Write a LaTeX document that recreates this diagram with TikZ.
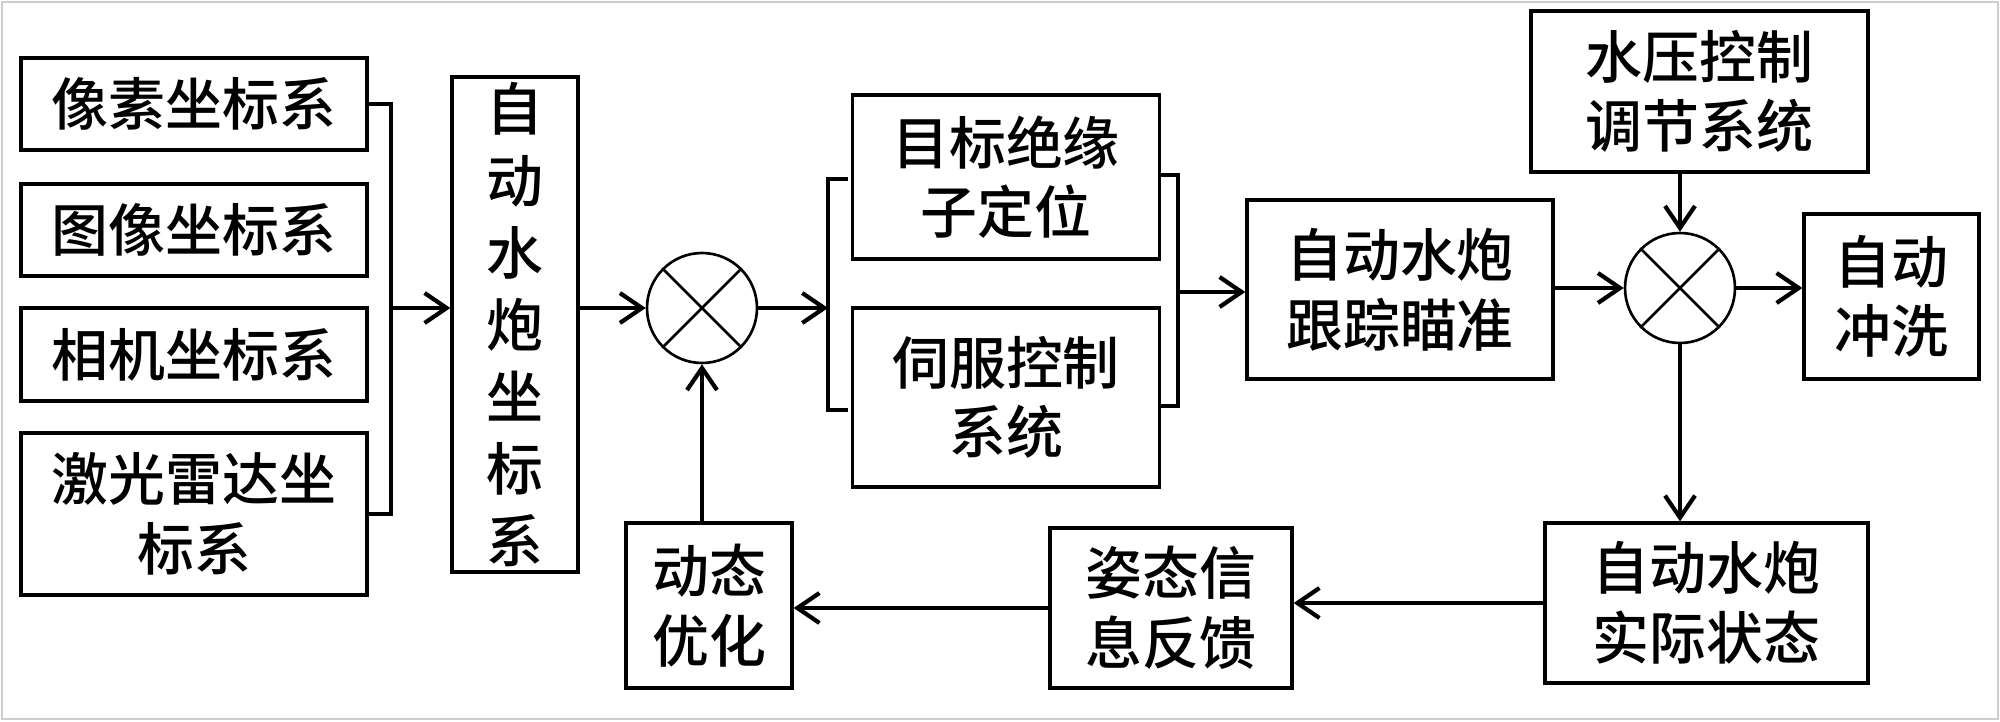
\documentclass[tikz,border=0pt]{standalone}
\usepackage{fontspec}
\setmainfont{Noto Sans CJK SC Medium}
\usetikzlibrary{arrows.meta}
\definecolor{framegray}{RGB}{205, 205, 205}

\begin{document}
\begin{tikzpicture}[
    font=\fontsize{16.2}{19.8}\selectfont,
    box/.style={draw=black, line width=0.95pt, align=center, inner sep=0pt},
    mix/.style={draw=black, circle, line width=0.75pt, minimum size=1.1cm, inner sep=0pt},
    link/.style={line width=1.2pt},
    arr/.style={link, -{Straight Barb[length=2.2mm, width=3mm]}},
  ]
    \useasboundingbox (0, 0) rectangle (20, 7.21);
    \draw[framegray, line width=0.6pt] (0.02, 0.02) rectangle (19.98, 7.19);

    % --- input coordinate frames
    \node[box, minimum width=3.46cm, minimum height=0.92cm] (pix) at (1.94, 6.17) {像素坐标系};
    \node[box, minimum width=3.46cm, minimum height=0.92cm] (img) at (1.94, 4.91) {图像坐标系};
    \node[box, minimum width=3.46cm, minimum height=0.93cm] (cam) at (1.94, 3.665) {相机坐标系};
    \node[box, minimum width=3.46cm, minimum height=1.62cm] (lidar) at (1.94, 2.07) {激光雷达坐\\标系};

    \node[box, minimum width=1.26cm, minimum height=4.95cm,
      font=\fontsize{16.2}{20.5}\selectfont] (wcs) at (5.15, 3.965) {自\\动\\水\\炮\\坐\\标\\系};

    % --- first mixing point and the two parallel blocks
    \node[mix] (mix1) at (7.02, 4.13) {};
    \draw[line width=0.75pt] (mix1.north west) -- (mix1.south east)
      (mix1.north east) -- (mix1.south west);

    \node[box, minimum width=3.07cm, minimum height=1.64cm] (loc) at (10.06, 5.44) {目标绝缘\\子定位};
    \node[box, minimum width=3.07cm, minimum height=1.79cm] (servo) at (10.06, 3.235) {伺服控制\\系统};

    \node[box, minimum width=3.06cm, minimum height=1.79cm] (track) at (14.00, 4.315) {自动水炮\\跟踪瞄准};

    % --- second mixing point
    \node[mix] (mix2) at (16.80, 4.33) {};
    \draw[line width=0.75pt] (mix2.north west) -- (mix2.south east)
      (mix2.north east) -- (mix2.south west);

    \node[box, minimum width=3.37cm, minimum height=1.61cm] (press) at (16.995, 6.295) {水压控制\\调节系统};
    \node[box, minimum width=1.75cm, minimum height=1.65cm] (wash) at (18.915, 4.245) {自动\\冲洗};

    % --- feedback row
    \node[box, minimum width=3.23cm, minimum height=1.60cm] (state) at (17.065, 1.18) {自动水炮\\实际状态};
    \node[box, minimum width=2.42cm, minimum height=1.60cm] (feed) at (11.71, 1.13) {姿态信\\息反馈};
    \node[box, minimum width=1.66cm, minimum height=1.65cm] (opt) at (7.09, 1.155) {动态\\优化};

    % --- connectors
    \draw[link] (pix.east) -- ++(0.22, 0) coordinate (jn) |- (lidar.east);
    \draw[arr] (jn |- mix1) -- (wcs.west |- mix1);
    \draw[arr] (wcs.east |- mix1) -- (mix1);

    \coordinate (lb) at (8.28, 4.13);
    \draw[link] (8.48, 5.42) -- (8.28, 5.42) -- (8.28, 3.11) -- (8.48, 3.11);
    \draw[arr] (mix1) -- (lb);

    \coordinate (rb) at (11.78, 4.29);
    \draw[link] (loc.east |- 0, 5.46) -- (11.78, 5.46) -- (11.78, 3.15) -- (servo.east |- 0, 3.15);
    \draw[arr] (rb) -- (rb -| track.west);

    \draw[arr] (track.east |- mix2) -- (mix2);
    \draw[arr] (mix2 |- press.south) -- (mix2);
    \draw[arr] (mix2) -- (wash.west |- mix2);
    \draw[arr] (mix2) -- (mix2 |- state.north);

    \draw[arr] (state.west) -- (state.west -| feed.east);
    \draw[arr] (feed.west) -- (feed.west -| opt.east);
    \draw[arr] (mix1 |- opt.north) -- (mix1);
  \end{tikzpicture}
\end{document}
